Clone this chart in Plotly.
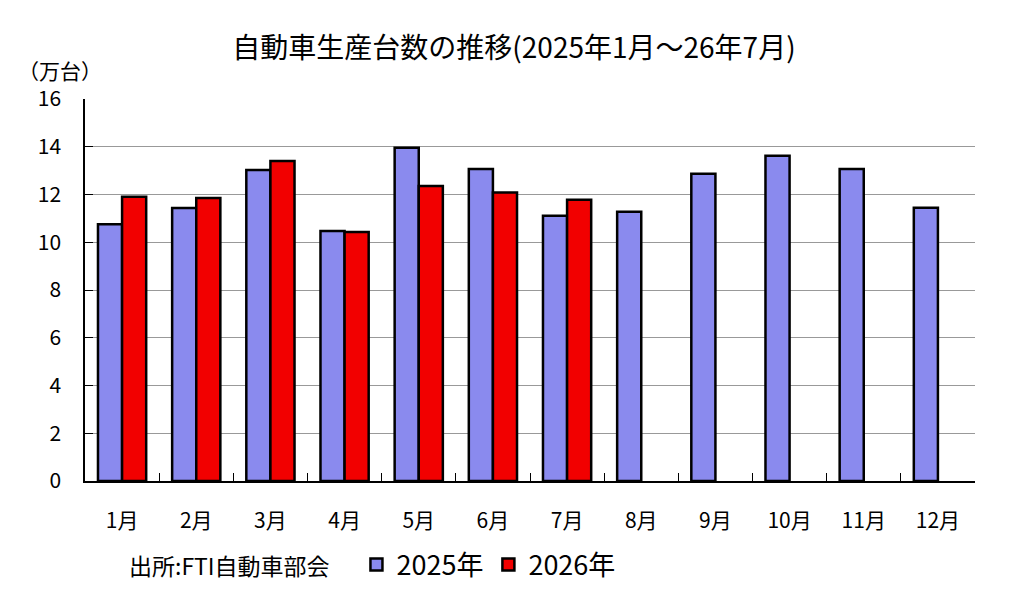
import plotly.graph_objects as go

months = ["1月", "2月", "3月", "4月", "5月", "6月", "7月", "8月", "9月", "10月", "11月", "12月"]
y2025 = [10.75, 11.43, 13.03, 10.47, 13.96, 13.07, 11.11, 11.28, 12.87, 13.62, 13.07, 11.45]
y2026 = [11.91, 11.85, 13.40, 10.43, 12.36, 12.08, 11.78, None, None, None, None, None]
y_ticks = [0, 2, 4, 6, 8, 10, 12, 14, 16]

FONT = "Noto Sans CJK JP"

fig = go.Figure()
fig.add_trace(go.Bar(
    x=months, y=y2025, name="2025年",
    marker=dict(color="#8A8AEE", line=dict(color="black", width=2.5)),
))
fig.add_trace(go.Bar(
    x=months, y=y2026, name="2026年",
    marker=dict(color="#F20000", line=dict(color="black", width=2.5)),
))

fig.update_layout(
    width=1012, height=610,
    barmode="group", bargap=0.35, bargroupgap=0,
    plot_bgcolor="white", paper_bgcolor="white",
    margin=dict(l=77, r=45, t=91, b=137),
    font=dict(family=FONT, color="black", size=20),
    title=dict(text="自動車生産台数の推移(2025年1月～26年7月)", x=0.5, xanchor="center",
               y=0.934, yanchor="middle", font=dict(size=28, family=FONT)),
    showlegend=True,
    legend=dict(orientation="h", x=0.305, xanchor="left", y=-0.22, yanchor="middle",
                font=dict(size=27, family=FONT), traceorder="normal",
                itemwidth=30, tracegroupgap=0),
    xaxis=dict(showline=True, linecolor="black", linewidth=1.5,
               ticks="inside", tickson="boundaries", ticklen=8, tickcolor="black",
               tickfont=dict(size=21), ticklabelstandoff=20),
    yaxis=dict(range=[0, 16], tickvals=y_ticks, showline=True, linecolor="black", linewidth=1.5,
               ticks="inside", ticklen=8, tickcolor="black",
               showgrid=True, gridcolor="#999999", gridwidth=1,
               tickfont=dict(size=21), ticklabelstandoff=18, zeroline=False),
    annotations=[
        dict(text="（万台）", xref="paper", yref="paper", x=-0.028, y=1.076,
             xanchor="center", yanchor="middle", showarrow=False, font=dict(size=21, family=FONT)),
        dict(text="出所:FTI自動車部会", xref="paper", yref="paper", x=0.047, y=-0.22,
             xanchor="left", yanchor="middle", showarrow=False, font=dict(size=23, family=FONT)),
    ],
)

fig.write_html("out.html")
